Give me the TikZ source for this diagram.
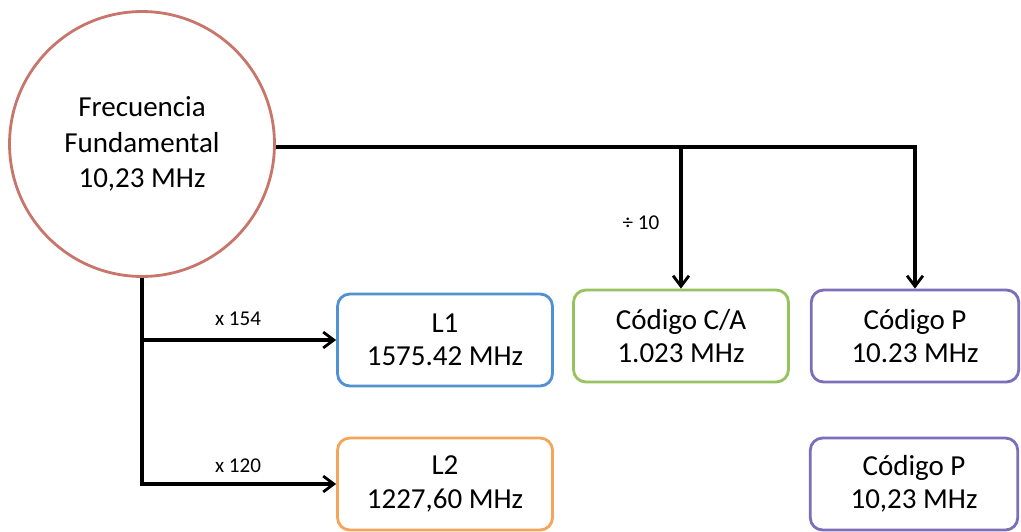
\documentclass[tikz,border=0pt]{standalone}
\usepackage{fontspec}
\setmainfont{Carlito}
\usetikzlibrary{arrows.meta}
\definecolor{fundred}{RGB}{200,118,108}
\definecolor{lblue}{RGB}{80,145,210}
\definecolor{lorange}{RGB}{245,165,90}
\definecolor{cgreen}{RGB}{150,195,95}
\definecolor{cpurple}{RGB}{125,110,185}
\tikzset{
  freq/.style={rounded corners=7pt, line width=1.6pt, fill=white, align=center,
    minimum width=4.3cm, minimum height=1.84cm, font=\fontsize{16.5}{19}\selectfont},
  factor/.style={font=\fontsize{12}{14}\selectfont},
  link/.style={line width=2pt},
}
\begin{document}
\begin{tikzpicture}[x=0.02cm, y=-0.02cm]
      \useasboundingbox (0,0) rectangle (1021,531);
      \draw
        (142,144) node[circle, draw=fundred, line width=1.6pt, minimum size=5.3cm,
          align=center, font=\fontsize{16.5}{20}\selectfont] (ff){Frecuencia\\Fundamental\\10,23 MHz}
        (445,340) node[freq, draw=lblue] (l1){L1\\1575.42 MHz}
        (445,484) node[freq, draw=lorange] (l2){L2\\1227,60 MHz}
        (681,336) node[freq, draw=cgreen] (ca){Código C/A\\1.023 MHz}
        (915,336) node[freq, draw=cpurple, minimum width=4.15cm] (p1){Código P\\10.23 MHz}
        (914,484) node[freq, draw=cpurple, minimum width=4.15cm] (p2){Código P\\10,23 MHz};
      \coordinate (split) at (ca.north |- 0,147);
      \node[factor] (m154) at (238,319) {x 154};
      \node[factor] (m120) at (238,466) {x 120};
      \node[factor] (d10) at (641,223) {÷ 10};
      \begin{scope}[link, -{Straight Barb[length=6pt, width=9pt, line width=1.6pt]}]
        \draw (ff.east |- split) -| (p1.north);
        \draw (split) -- (ca.north);
        \draw (ff.south) |- (l2.west);
        \draw (ff.south |- l1.west) -- (l1.west);
      \end{scope}
    \end{tikzpicture}
\end{document}
